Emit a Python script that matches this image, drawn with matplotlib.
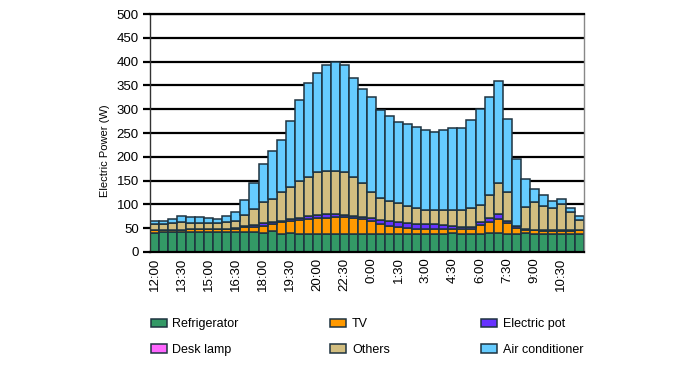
import numpy as np
import matplotlib
matplotlib.use('Agg')
import matplotlib.pyplot as plt

# half-hourly average power per appliance, 12:00 .. 11:30 (W)
fridge = [40, 41, 41, 41, 41, 41, 41, 42, 41, 42,
          42, 42, 39, 44, 37, 40, 38, 38, 38, 38,
          38, 38, 38, 38, 38, 38, 38, 38, 38, 38,
          38, 38, 38, 39, 38, 38, 38, 39, 40, 38,
          37, 39, 38, 38, 38, 38, 38, 38]
tv = [6, 5, 6, 6, 7, 7, 7, 6, 7, 7,
      10, 11, 16, 15, 25, 25, 29, 31, 33, 34,
      35, 36, 33, 31, 27, 21, 17, 15, 12, 10,
      10, 10, 10, 9, 10, 10, 19, 23, 29, 23,
      13, 8, 8, 7, 7, 7, 7, 8]
elec_pot = [0, 0, 0, 0, 0, 0, 0, 0, 0, 1,
            2, 4, 5, 3, 3, 4, 5, 6, 7, 7,
            6, 4, 5, 5, 7, 9, 10, 9, 10, 10,
            10, 10, 9, 7, 5, 5, 5, 9, 11, 5,
            4, 1, 1, 1, 1, 1, 1, 1]
desk_lamp = [0, 0, 0, 0, 0, 0, 0, 0, 0, 0,
             0, 0, 0, 0, 0, 0, 0, 0, 0, 0,
             0, 0, 0, 0, 0, 0, 0, 0, 0, 0,
             0, 0, 0, 0, 0, 0, 0, 0, 0, 0,
             0, 0, 0, 0, 0, 0, 0, 0]
others = [12, 12, 13, 15, 13, 13, 13, 13, 14, 16,
          24, 33, 44, 49, 60, 67, 78, 83, 91, 92,
          92, 91, 82, 72, 55, 46, 43, 40, 37, 34,
          31, 30, 31, 33, 36, 39, 37, 49, 66, 61,
          1, 47, 57, 51, 46, 55, 37, 20]
aircon = [8, 7, 10, 14, 12, 12, 10, 9, 14, 18,
          31, 55, 81, 101, 110, 139, 169, 197, 207, 222,
          228, 224, 207, 196, 199, 184, 178, 172, 171, 171,
          167, 165, 169, 172, 172, 186, 201, 206, 214, 152,
          141, 59, 29, 22, 15, 10, 10, 9]

tick_labels = ['12:00', '13:30', '15:00', '16:30', '18:00', '19:30', '20:00', '22:30',
               '0:00', '1:30', '3:00', '4:30', '6:00', '7:30', '9:00', '10:30']

series = [('Refrigerator', fridge, '#339966'),
          ('TV', tv, '#FF9900'),
          ('Electric pot', elec_pot, '#6633FF'),
          ('Desk lamp', desk_lamp, '#FF66FF'),
          ('Others', others, '#D2BE80'),
          ('Air conditioner', aircon, '#66CCFF')]

edge = '#1E3340'

plt.rcParams['font.family'] = ['Liberation Sans', 'DejaVu Sans']

fig = plt.figure(figsize=(6.81, 3.66), dpi=100)
ax = fig.add_axes([0.2203, 0.3115, 0.6373, 0.6502])

x = np.arange(len(fridge))
bottom = np.zeros(len(fridge))
handles = {}
for name, vals, col in series:
    vals = np.asarray(vals, dtype=float)
    b = ax.bar(x, vals, width=1.0, bottom=bottom, color=col,
               edgecolor=edge, linewidth=1.1, label=name)
    handles[name] = b
    bottom += vals

ax.set_xlim(-0.5, len(fridge) - 0.5)
ax.set_ylim(0, 500)
ax.set_yticks(np.arange(0, 501, 50))
ax.set_xticks(x[::3])
ax.set_xticklabels(tick_labels, rotation=90, fontsize=9.5)
ax.tick_params(axis='x', length=0, pad=4)
ax.tick_params(axis='y', length=5, width=1.6, color='black', labelsize=9.5, pad=3)

ax.set_axisbelow(True)
ax.yaxis.grid(True, color='black', linewidth=1.6)
ax.set_ylabel('Electric Power (W)', fontsize=8)
ax.yaxis.set_label_coords(-0.092, 0.424)

ax.spines['left'].set_color('#333333')
ax.spines['left'].set_linewidth(1.0)
ax.spines['right'].set_color('#888888')
ax.spines['right'].set_linewidth(1.0)
ax.spines['top'].set_color('black')
ax.spines['top'].set_linewidth(1.6)
ax.spines['bottom'].set_color('black')
ax.spines['bottom'].set_linewidth(1.6)

# legend is filled column-wise, so reorder to read row by row
order = ['Refrigerator', 'Desk lamp', 'TV', 'Others', 'Electric pot', 'Air conditioner']
fig.legend([handles[n] for n in order], order, loc='upper left',
           bbox_to_anchor=(0.221, 0.130), ncol=3, frameon=False, fontsize=9,
           handlelength=1.3, handleheight=0.65, handletextpad=0.45,
           columnspacing=7.3, labelspacing=1.08, borderpad=0, borderaxespad=0)

fig.savefig('out.png', dpi=100)
